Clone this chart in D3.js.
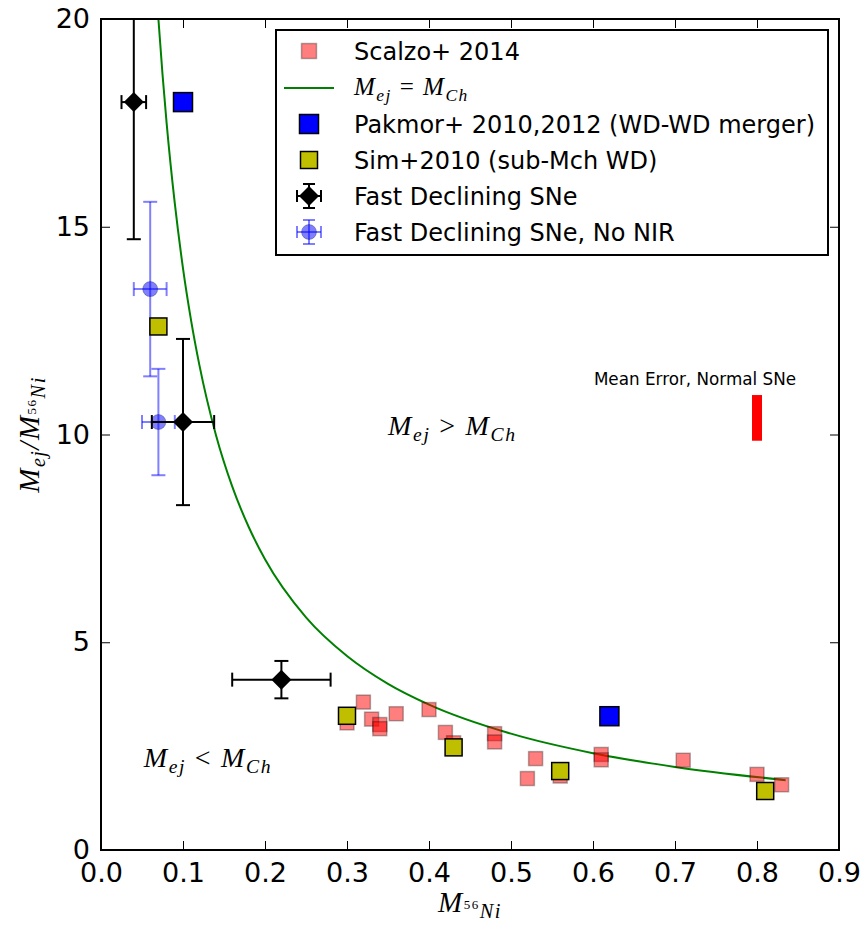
<html lang="en">
  <head>
    <meta charset="utf-8" />
    <title>Mej / M56Ni</title>
    <script src="https://cdn.jsdelivr.net/npm/d3@7"></script>
    <style>
      body { margin: 0; background: #fff; }
      text { font-family: "DejaVu Sans", sans-serif; }
      .math { font-family: "Liberation Serif", "DejaVu Serif", serif; font-style: italic; }
    </style>
  </head>
  <body>
    <script>
      /*************************** Data ***************************/

      var xTicks = [0.0, 0.1, 0.2, 0.3, 0.4, 0.5, 0.6, 0.7, 0.8, 0.9];
      var yTicks = [0, 5, 10, 15, 20];

      // Scalzo+ 2014
      var scalzoX = [0.30, 0.32, 0.33, 0.34, 0.34, 0.36, 0.40, 0.42, 0.43, 0.48, 0.48, 0.52, 0.53, 0.56, 0.61, 0.61, 0.71, 0.80, 0.83];
      var scalzoY = [3.06, 3.56, 3.15, 3.02, 2.92, 3.28, 3.38, 2.83, 2.58, 2.80, 2.60, 1.72, 2.20, 1.78, 2.30, 2.17, 2.16, 1.82, 1.57];

      // Pakmor+ 2010,2012 (WD-WD merger)
      var pakmorX = [0.10, 0.62];
      var pakmorY = [18.0, 3.22];

      // Sim+2010 (sub-Mch WD)
      var simX = [0.07, 0.30, 0.43, 0.56, 0.81];
      var simY = [12.6, 3.23, 2.47, 1.90, 1.42];

      // Fast Declining SNe
      var fastX = [0.04, 0.10, 0.22];
      var fastY = [18.0, 10.3, 4.1];
      var fastXerr = [0.015, 0.038, 0.06];
      var fastYerr = [3.3, 2.0, 0.45];

      // Fast Declining SNe, No NIR
      var nonirX = [0.06, 0.07];
      var nonirY = [13.5, 10.3];
      var nonirXerr = [0.02, 0.02];
      var nonirYerr = [2.1, 1.28];

      // Mej = MCh curve
      var curveX = [0.07, 0.075, 0.08, 0.09, 0.10, 0.11, 0.12, 0.14, 0.16, 0.18, 0.20, 0.25, 0.30, 0.35, 0.40, 0.50, 0.60, 0.70, 0.835];
      var curveY = [20.0, 18.67, 17.5, 15.56, 14.0, 12.73, 11.67, 10.0, 8.75, 7.78, 7.0, 5.6, 4.67, 4.0, 3.5, 2.8, 2.33, 2.0, 1.68];

      // Mean error, normal SNe
      var meanErrX = [0.8];
      var meanErrLo = [9.85];
      var meanErrHi = [10.95];

      /*************************** Canvas ***************************/

      var W = 863, H = 932;
      var pLeft = 101, pTop = 19, pRight = 839, pBottom = 850;

      var svg = d3.select("body").append("svg").attr("width", W).attr("height", H);

      var x = d3.scaleLinear().domain([0, 0.9]).range([pLeft, pRight]);
      var y = d3.scaleLinear().domain([0, 20]).range([pBottom, pTop]);

      svg.append("clipPath").attr("id", "clip")
        .append("rect").attr("x", pLeft).attr("y", pTop)
        .attr("width", pRight - pLeft).attr("height", pBottom - pTop);

      var plot = svg.append("g").attr("clip-path", "url(#clip)");

      /*************************** Axes ***************************/

      function styleAxis(g, showLabels) {
        g.attr("font-size", 27).attr("font-family", "DejaVu Sans");
        g.select(".domain").remove();
        g.selectAll(".tick line").attr("stroke", "#000").attr("stroke-width", 1);
        g.selectAll(".tick text").attr("fill", "#000");
        if (!showLabels) g.selectAll(".tick text").remove();
      }

      svg.append("g").attr("transform", "translate(0," + pBottom + ")")
        .call(d3.axisBottom(x).tickValues(xTicks).tickFormat(d3.format(".1f")).tickSizeInner(-9).tickSizeOuter(0).tickPadding(13))
        .call(styleAxis, true);
      svg.append("g").attr("transform", "translate(0," + pTop + ")")
        .call(d3.axisTop(x).tickValues(xTicks).tickSizeInner(-9).tickSizeOuter(0))
        .call(styleAxis, false);
      svg.append("g").attr("transform", "translate(" + pLeft + ",0)")
        .call(d3.axisLeft(y).tickValues(yTicks).tickSizeInner(-9).tickSizeOuter(0).tickPadding(11))
        .call(styleAxis, true);
      svg.append("g").attr("transform", "translate(" + pRight + ",0)")
        .call(d3.axisRight(y).tickValues(yTicks).tickSizeInner(-9).tickSizeOuter(0))
        .call(styleAxis, false);

      /*************************** Marks ***************************/

      var line_gen = d3.line().x(function (d) { return x(d[0]); })
        .y(function (d) { return y(d[1]); }).curve(d3.curveMonotoneX);

      plot.append("path").datum(d3.zip(curveX, curveY))
        .attr("d", line_gen).attr("fill", "none")
        .attr("stroke", "#008000").attr("stroke-width", 2);

      function squares(xs, ys, size, fill, opts) {
        opts = opts || {};
        plot.selectAll(null).data(d3.zip(xs, ys)).enter().append("rect")
          .attr("x", function (d) { return x(d[0]) - size / 2; })
          .attr("y", function (d) { return y(d[1]) - size / 2; })
          .attr("width", size).attr("height", size)
          .attr("fill", fill).attr("fill-opacity", opts.fo || 1)
          .attr("stroke", "#000").attr("stroke-opacity", opts.so || 1)
          .attr("stroke-width", opts.sw || 1.2);
      }

      squares(scalzoX, scalzoY, 14, "#ff0000", { fo: 0.5, so: 0.3, sw: 1.5 });

      // mean error bar
      plot.selectAll(null).data(meanErrX).enter().append("line")
        .attr("x1", function (d) { return x(d); }).attr("x2", function (d) { return x(d); })
        .attr("y1", function (d, i) { return y(meanErrLo[i]); })
        .attr("y2", function (d, i) { return y(meanErrHi[i]); })
        .attr("stroke", "#ff0000").attr("stroke-width", 10);

      svg.append("text").attr("x", x(0.8) - 62).attr("y", y(11.2))
        .attr("text-anchor", "middle").attr("font-size", 16.8)
        .text("Mean Error, Normal SNe");

      function errorbars(xs, ys, xe, ye, color, opacity, cap) {
        var g = plot.append("g").attr("stroke", color).attr("stroke-opacity", opacity)
          .attr("stroke-width", 2).attr("fill", "none");
        xs.forEach(function (xv, i) {
          var cx = x(xv), cy = y(ys[i]);
          var x0 = x(xv - xe[i]), x1 = x(xv + xe[i]);
          var y0 = y(ys[i] - ye[i]), y1 = y(ys[i] + ye[i]);
          g.append("line").attr("x1", x0).attr("x2", x1).attr("y1", cy).attr("y2", cy);
          g.append("line").attr("x1", cx).attr("x2", cx).attr("y1", y0).attr("y2", y1);
          g.append("line").attr("x1", x0).attr("x2", x0).attr("y1", cy - cap / 2).attr("y2", cy + cap / 2);
          g.append("line").attr("x1", x1).attr("x2", x1).attr("y1", cy - cap / 2).attr("y2", cy + cap / 2);
          g.append("line").attr("x1", cx - cap / 2).attr("x2", cx + cap / 2).attr("y1", y0).attr("y2", y0);
          g.append("line").attr("x1", cx - cap / 2).attr("x2", cx + cap / 2).attr("y1", y1).attr("y2", y1);
        });
      }

      errorbars(nonirX, nonirY, nonirXerr, nonirYerr, "#0000ff", 0.5, 14);
      plot.selectAll(null).data(d3.zip(nonirX, nonirY)).enter().append("circle")
        .attr("cx", function (d) { return x(d[0]); })
        .attr("cy", function (d) { return y(d[1]); })
        .attr("r", 7.5).attr("fill", "#0000ff").attr("fill-opacity", 0.5)
        .attr("stroke", "#000").attr("stroke-opacity", 0.25);

      squares(simX, simY, 17, "#bfbf00", { sw: 1.5 });
      squares(pakmorX, pakmorY, 19, "#0000ff", { sw: 1.5 });

      errorbars(fastX, fastY, fastXerr, fastYerr, "#000", 1, 14);
      var diamond = d3.symbol().type(d3.symbolSquare).size(200);
      plot.selectAll(null).data(d3.zip(fastX, fastY)).enter().append("path")
        .attr("d", diamond)
        .attr("transform", function (d) { return "translate(" + x(d[0]) + "," + y(d[1]) + ") rotate(45)"; })
        .attr("fill", "#000");

      /*************************** Frame ***************************/

      svg.append("rect").attr("x", pLeft).attr("y", pTop)
        .attr("width", pRight - pLeft).attr("height", pBottom - pTop)
        .attr("fill", "none").attr("stroke", "#000").attr("stroke-width", 2);

      /*************************** Math labels ***************************/

      // M_{ej} op M_{Ch}
      function relation(px, py, op, size) {
        var t = svg.append("text").attr("class", "math").attr("x", px).attr("y", py)
          .attr("font-size", size).attr("letter-spacing", size * 0.06);
        var s = size * 0.7;
        t.append("tspan").text("M");
        t.append("tspan").attr("font-size", s).attr("dy", size * 0.22).text("ej");
        t.append("tspan").attr("dy", -size * 0.22).attr("font-style", "normal")
          .text(" " + op + " ");
        t.append("tspan").text("M");
        t.append("tspan").attr("font-size", s).attr("dy", size * 0.22).text("Ch");
        return t;
      }

      relation(x(0.35), y(10.0), ">", 28);
      relation(x(0.052), y(2.0), "<", 28);

      // M_{^{56}Ni}
      function nickel(t, size) {
        t.append("tspan").text("M");
        t.append("tspan").attr("font-size", size * 0.45).attr("font-style", "normal")
          .attr("dy", -size * 0.12).text("56");
        t.append("tspan").attr("font-size", size * 0.7).attr("dy", size * 0.34).text("Ni");
      }

      var xl = svg.append("text").attr("class", "math").attr("x", (pLeft + pRight) / 2)
        .attr("y", 912).attr("text-anchor", "middle").attr("font-size", 29)
        .attr("letter-spacing", 1.5);
      nickel(xl, 29);

      var yl = svg.append("text").attr("class", "math")
        .attr("transform", "translate(39," + (pTop + pBottom) / 2 + ") rotate(-90)")
        .attr("text-anchor", "middle").attr("font-size", 29).attr("letter-spacing", 1.5);
      yl.append("tspan").text("M");
      yl.append("tspan").attr("font-size", 20).attr("dy", 6).text("ej");
      yl.append("tspan").attr("dy", -6).text("/");
      nickel(yl, 29);

      /*************************** Legend ***************************/

      var lg = svg.append("g");
      lg.append("rect").attr("x", 276).attr("y", 30).attr("width", 552).attr("height", 225)
        .attr("fill", "#fff").attr("stroke", "#000").attr("stroke-width", 2);

      var rowY = [51, 88, 124, 160, 196, 232];
      var mx = 309, tx = 354;
      var labels = ["Scalzo+ 2014", null, "Pakmor+ 2010,2012 (WD-WD merger)", "Sim+2010 (sub-Mch WD)",
        "Fast Declining SNe", "Fast Declining SNe, No NIR"];

      lg.append("rect").attr("x", mx - 7.5).attr("y", rowY[0] - 7.5).attr("width", 15).attr("height", 15)
        .attr("fill", "#ff0000").attr("fill-opacity", 0.5).attr("stroke", "#000").attr("stroke-opacity", 0.3).attr("stroke-width", 1.5);
      lg.append("line").attr("x1", 284).attr("x2", 334).attr("y1", rowY[1]).attr("y2", rowY[1])
        .attr("stroke", "#008000").attr("stroke-width", 2);
      lg.append("rect").attr("x", mx - 9.5).attr("y", rowY[2] - 9.5).attr("width", 19).attr("height", 19)
        .attr("fill", "#0000ff").attr("stroke", "#000").attr("stroke-width", 1.5);
      lg.append("rect").attr("x", mx - 8.5).attr("y", rowY[3] - 8.5).attr("width", 17).attr("height", 17)
        .attr("fill", "#bfbf00").attr("stroke", "#000").attr("stroke-width", 1.5);

      function legendErr(cy, color, op) {
        var g = lg.append("g").attr("stroke", color).attr("stroke-opacity", op).attr("stroke-width", 2);
        g.append("line").attr("x1", mx - 12).attr("x2", mx + 12).attr("y1", cy).attr("y2", cy);
        g.append("line").attr("x1", mx).attr("x2", mx).attr("y1", cy - 12).attr("y2", cy + 12);
        g.append("line").attr("x1", mx - 12).attr("x2", mx - 12).attr("y1", cy - 6).attr("y2", cy + 6);
        g.append("line").attr("x1", mx + 12).attr("x2", mx + 12).attr("y1", cy - 6).attr("y2", cy + 6);
        g.append("line").attr("x1", mx - 6).attr("x2", mx + 6).attr("y1", cy - 12).attr("y2", cy - 12);
        g.append("line").attr("x1", mx - 6).attr("x2", mx + 6).attr("y1", cy + 12).attr("y2", cy + 12);
      }
      legendErr(rowY[4], "#000", 1);
      lg.append("path").attr("d", diamond)
        .attr("transform", "translate(" + mx + "," + rowY[4] + ") rotate(45)").attr("fill", "#000");
      legendErr(rowY[5], "#0000ff", 0.5);
      lg.append("circle").attr("cx", mx).attr("cy", rowY[5]).attr("r", 7.5)
        .attr("fill", "#0000ff").attr("fill-opacity", 0.5).attr("stroke", "#000").attr("stroke-opacity", 0.25);

      labels.forEach(function (l, i) {
        if (l === null) return;
        lg.append("text").attr("x", tx).attr("y", rowY[i]).attr("dy", "0.36em")
          .attr("font-size", 24).text(l);
      });
      relation(tx, rowY[1] + 7, "=", 25);
    </script>
  </body>
</html>
